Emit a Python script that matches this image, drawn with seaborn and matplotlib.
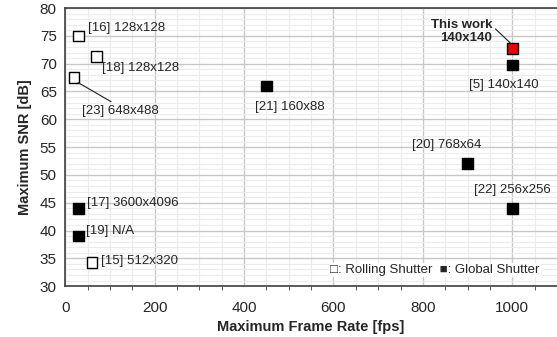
import numpy as np
import pandas as pd
import seaborn as sns
import matplotlib.pyplot as plt
from matplotlib.ticker import MultipleLocator

refs = ["[16] 128x128", "[18] 128x128", "[23] 648x488", "[15] 512x320",
        "[17] 3600x4096", "[19] N/A", "[21] 160x88", "[20] 768x64",
        "[22] 256x256", "[5] 140x140", "This work\n140x140"]
frame_rate = [30, 70, 20, 60, 30, 30, 450, 900, 1000, 1000, 1000]
snr = [75, 71.3, 67.5, 34.2, 44, 39, 66, 52, 44, 69.8, 72.7]
shutter = ["Rolling", "Rolling", "Rolling", "Rolling", "Global", "Global",
           "Global", "Global", "Global", "Global", "This work"]

df = pd.DataFrame({"ref": refs, "fps": frame_rate, "snr": snr, "shutter": shutter})

sns.set_style("white")
plt.rcParams['font.family'] = ['Liberation Sans', 'DejaVu Sans']

fig, ax = plt.subplots(figsize=(5.57, 3.37), dpi=100)
palette = {"Rolling": "white", "Global": "black", "This work": "#e8000b"}
sns.scatterplot(data=df, x="fps", y="snr", hue="shutter", palette=palette,
                marker="s", s=58, edgecolor="black", linewidth=1.0,
                legend=False, zorder=3, ax=ax)

ax.set_xlim(0, 1100)
ax.set_ylim(30, 80)
ax.xaxis.set_major_locator(MultipleLocator(200))
ax.xaxis.set_minor_locator(MultipleLocator(50))
ax.yaxis.set_major_locator(MultipleLocator(5))
ax.yaxis.set_minor_locator(MultipleLocator(1))
ax.grid(which="major", color="#c8c8c8", linewidth=1.0)
ax.grid(which="minor", color="#ececec", linewidth=0.8)
ax.set_axisbelow(True)
ax.tick_params(axis="x", which="minor", direction="out", length=3, color="#404040", bottom=True)
ax.tick_params(axis="both", which="major", labelsize=11, length=0)
ax.tick_params(axis="x", which="major", pad=11)
ax.tick_params(axis="y", which="major", pad=6)
for s in ["left", "bottom", "top"]:
    ax.spines[s].set_color("#404040")
    ax.spines[s].set_linewidth(1.2)
ax.spines["right"].set_visible(False)

ax.set_xlabel("Maximum Frame Rate [fps]", fontsize=10.5, fontweight="bold", labelpad=3)
ax.set_ylabel("Maximum SNR [dB]", fontsize=10.5, fontweight="bold", labelpad=6)

fs = 9.5
ax.text(51, 76.4, "[16] 128x128", fontsize=fs, va="center")
ax.text(83, 69.3, "[18] 128x128", fontsize=fs, va="center")
ax.annotate("[23] 648x488", xy=(29, 66.6), xytext=(38, 61.5), fontsize=fs,
            ha="left", va="center",
            arrowprops=dict(arrowstyle="-", color="#202020", lw=0.8, shrinkA=0, shrinkB=0,
                            relpos=(0.45, 1.0)))
ax.text(80, 34.5, "[15] 512x320", fontsize=fs, va="center")
ax.text(49, 45.0, "[17] 3600x4096", fontsize=fs, va="center")
ax.text(47, 40.0, "[19] N/A", fontsize=fs, va="center")
ax.text(502, 62.2, "[21] 160x88", fontsize=fs, ha="center", va="center")
ax.text(854, 55.3, "[20] 768x64", fontsize=fs, ha="center", va="center")
ax.text(1001, 47.3, "[22] 256x256", fontsize=fs, ha="center", va="center")
ax.text(980, 66.2, "[5] 140x140", fontsize=fs, ha="center", va="center")
ax.annotate("This work\n140x140", xy=(996, 73.7), xytext=(955, 75.8), fontsize=fs,
            fontweight="bold", ha="right", va="center", linespacing=1.15,
            arrowprops=dict(arrowstyle="-", color="#202020", lw=0.8, shrinkA=0, shrinkB=0,
                            relpos=(1.0, 0.72)))

ax.text(1061, 32.9, "\u25a1: Rolling Shutter  \u25a0: Global Shutter", fontsize=fs,
        ha="right", va="center", family=['Liberation Sans', 'DejaVu Sans'],
        bbox=dict(facecolor="white", edgecolor="none", pad=1))

fig.subplots_adjust(left=0.117, right=1.0, top=0.976, bottom=0.151)
fig.savefig("out.png", dpi=100)
